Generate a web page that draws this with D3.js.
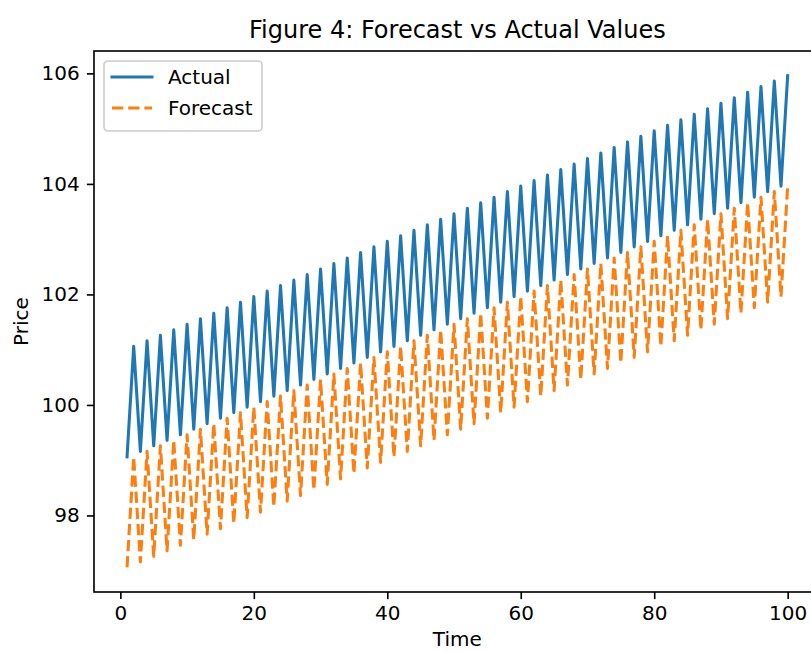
<!DOCTYPE html>
<html>
<head>
<meta charset="utf-8">
<script src="https://cdn.jsdelivr.net/npm/d3@7"></script>
<style>
  html, body { margin: 0; padding: 0; background: #fff; }
  svg { display: block; font-family: "DejaVu Sans", sans-serif; }
</style>
</head>
<body>
<div id="chart"></div>
<script>
// Data (Time = 1..100)
const actual = [
  99.06, 101.06, 99.16, 101.16, 99.26, 101.26, 99.36, 101.36, 99.46, 101.46,
  99.56, 101.56, 99.66, 101.66, 99.76, 101.76, 99.86, 101.86, 99.96, 101.96,
  100.06, 102.06, 100.16, 102.16, 100.26, 102.26, 100.36, 102.36, 100.46, 102.46,
  100.56, 102.56, 100.66, 102.66, 100.76, 102.76, 100.86, 102.86, 100.96, 102.96,
  101.06, 103.06, 101.16, 103.16, 101.26, 103.26, 101.36, 103.36, 101.46, 103.46,
  101.56, 103.56, 101.66, 103.66, 101.76, 103.76, 101.86, 103.86, 101.96, 103.96,
  102.06, 104.06, 102.16, 104.16, 102.26, 104.26, 102.36, 104.36, 102.46, 104.46,
  102.56, 104.56, 102.66, 104.66, 102.76, 104.76, 102.86, 104.86, 102.96, 104.96,
  103.06, 105.06, 103.16, 105.16, 103.26, 105.26, 103.36, 105.36, 103.46, 105.46,
  103.56, 105.56, 103.66, 105.66, 103.76, 105.76, 103.86, 105.86, 103.96, 105.96
];
const forecast = [
  97.06, 99.06, 97.16, 99.16, 97.26, 99.26, 97.36, 99.36, 97.46, 99.46,
  97.56, 99.56, 97.66, 99.66, 97.76, 99.76, 97.86, 99.86, 97.96, 99.96,
  98.06, 100.06, 98.16, 100.16, 98.26, 100.26, 98.36, 100.36, 98.46, 100.46,
  98.56, 100.56, 98.66, 100.66, 98.76, 100.76, 98.86, 100.86, 98.96, 100.96,
  99.06, 101.06, 99.16, 101.16, 99.26, 101.26, 99.36, 101.36, 99.46, 101.46,
  99.56, 101.56, 99.66, 101.66, 99.76, 101.76, 99.86, 101.86, 99.96, 101.96,
  100.06, 102.06, 100.16, 102.16, 100.26, 102.26, 100.36, 102.36, 100.46, 102.46,
  100.56, 102.56, 100.66, 102.66, 100.76, 102.76, 100.86, 102.86, 100.96, 102.96,
  101.06, 103.06, 101.16, 103.16, 101.26, 103.26, 101.36, 103.36, 101.46, 103.46,
  101.56, 103.56, 101.66, 103.66, 101.76, 103.76, 101.86, 103.86, 101.96, 103.96
];
const xTicks = [0, 20, 40, 60, 80, 100];
const yTicks = [98, 100, 102, 104, 106];
const seriesNames = ["Actual", "Forecast"];
const seriesColors = ["#1f77b4", "#ff7f0e"];

const time = actual.map((d, i) => i + 1);

// Dimensi
const width = 811, height = 651;
const plot = { left: 94, top: 51, right: 820.7, bottom: 592 };
const pt = 2.035; // px per point

const svg = d3.select("#chart").append("svg")
  .attr("width", width)
  .attr("height", height);

// Skala dengan margin 5% seperti matplotlib
const xExt = d3.extent(time);
const xPad = (xExt[1] - xExt[0]) * 0.05;
const x = d3.scaleLinear().domain([xExt[0] - xPad, xExt[1] + xPad]).range([plot.left, plot.right]);

const allY = actual.concat(forecast);
const yExt = d3.extent(allY);
const yPad = (yExt[1] - yExt[0]) * 0.05;
const y = d3.scaleLinear().domain([yExt[0] - yPad, yExt[1] + yPad]).range([plot.bottom, plot.top]);

svg.append("defs").append("clipPath").attr("id", "clip")
  .append("rect")
  .attr("x", plot.left).attr("y", plot.top)
  .attr("width", plot.right - plot.left).attr("height", plot.bottom - plot.top);

// Garis data
const line = d3.line().x((d, i) => x(time[i])).y(d => y(d));

const g = svg.append("g").attr("clip-path", "url(#clip)");
g.append("path")
  .datum(actual)
  .attr("d", line)
  .attr("fill", "none")
  .attr("stroke", seriesColors[0])
  .attr("stroke-width", 1.5 * pt)
  .attr("stroke-linejoin", "round")
  .attr("stroke-linecap", "square");

g.append("path")
  .datum(forecast)
  .attr("d", line)
  .attr("fill", "none")
  .attr("stroke", seriesColors[1])
  .attr("stroke-width", 1.5 * pt)
  .attr("stroke-linejoin", "round")
  .attr("stroke-linecap", "butt")
  .attr("stroke-dasharray", `${3.7 * 1.5 * pt},${1.6 * 1.5 * pt}`);

// Sumbu
const tickLen = 3.5 * pt, tickPad = 3.5 * pt;
const xAxis = svg.append("g")
  .attr("transform", `translate(0,${plot.bottom})`)
  .call(d3.axisBottom(x).tickValues(xTicks).tickFormat(d3.format("d"))
    .tickSizeInner(tickLen).tickSizeOuter(0).tickPadding(tickPad));
const yAxis = svg.append("g")
  .attr("transform", `translate(${plot.left},0)`)
  .call(d3.axisLeft(y).tickValues(yTicks).tickFormat(d3.format("d"))
    .tickSizeInner(tickLen).tickSizeOuter(0).tickPadding(tickPad));

[xAxis, yAxis].forEach(a => {
  a.select(".domain").remove();
  a.selectAll(".tick line").attr("stroke", "#000").attr("stroke-width", 0.8 * pt);
  a.selectAll(".tick text").attr("fill", "#000")
    .style("font-size", "20px").style("font-family", "DejaVu Sans");
});

// Bingkai (spines)
svg.append("rect")
  .attr("x", plot.left).attr("y", plot.top)
  .attr("width", plot.right - plot.left).attr("height", plot.bottom - plot.top)
  .attr("fill", "none").attr("stroke", "#000").attr("stroke-width", 0.8 * pt);

// Judul dan label
svg.append("text")
  .attr("x", (plot.left + plot.right) / 2).attr("y", plot.top - 6 * pt - 1)
  .attr("text-anchor", "middle")
  .style("font-size", "24px")
  .text("Figure 4: Forecast vs Actual Values");

svg.append("text")
  .attr("x", (plot.left + plot.right) / 2).attr("y", 646)
  .attr("text-anchor", "middle")
  .style("font-size", "20px")
  .text("Time");

svg.append("text")
  .attr("transform", `translate(28,${(plot.top + plot.bottom) / 2}) rotate(-90)`)
  .attr("text-anchor", "middle")
  .style("font-size", "20px")
  .text("Price");

// Legenda
const fs = 20;
const legend = svg.append("g").attr("transform", `translate(${plot.left + 0.5 * fs},${plot.top + 0.5 * fs})`);
legend.append("rect")
  .attr("width", 158).attr("height", 70)
  .attr("rx", 4).attr("ry", 4)
  .attr("fill", "#fff").attr("fill-opacity", 0.8)
  .attr("stroke", "#cccccc").attr("stroke-width", 1.6);

seriesNames.forEach((name, i) => {
  const cy = 16 + i * 31;
  const row = legend.append("g").attr("transform", `translate(0,${cy})`);
  row.append("line")
    .attr("x1", 0.4 * fs).attr("x2", 0.4 * fs + 2 * fs)
    .attr("stroke", seriesColors[i])
    .attr("stroke-width", 1.5 * pt)
    .attr("stroke-linecap", i === 0 ? "square" : "butt")
    .attr("stroke-dasharray", i === 0 ? null : `${3.7 * 1.5 * pt},${1.6 * 1.5 * pt}`);
  row.append("text")
    .attr("x", 0.4 * fs + 2.8 * fs).attr("dy", "0.35em")
    .style("font-size", fs + "px")
    .text(name);
});
</script>
</body>
</html>
